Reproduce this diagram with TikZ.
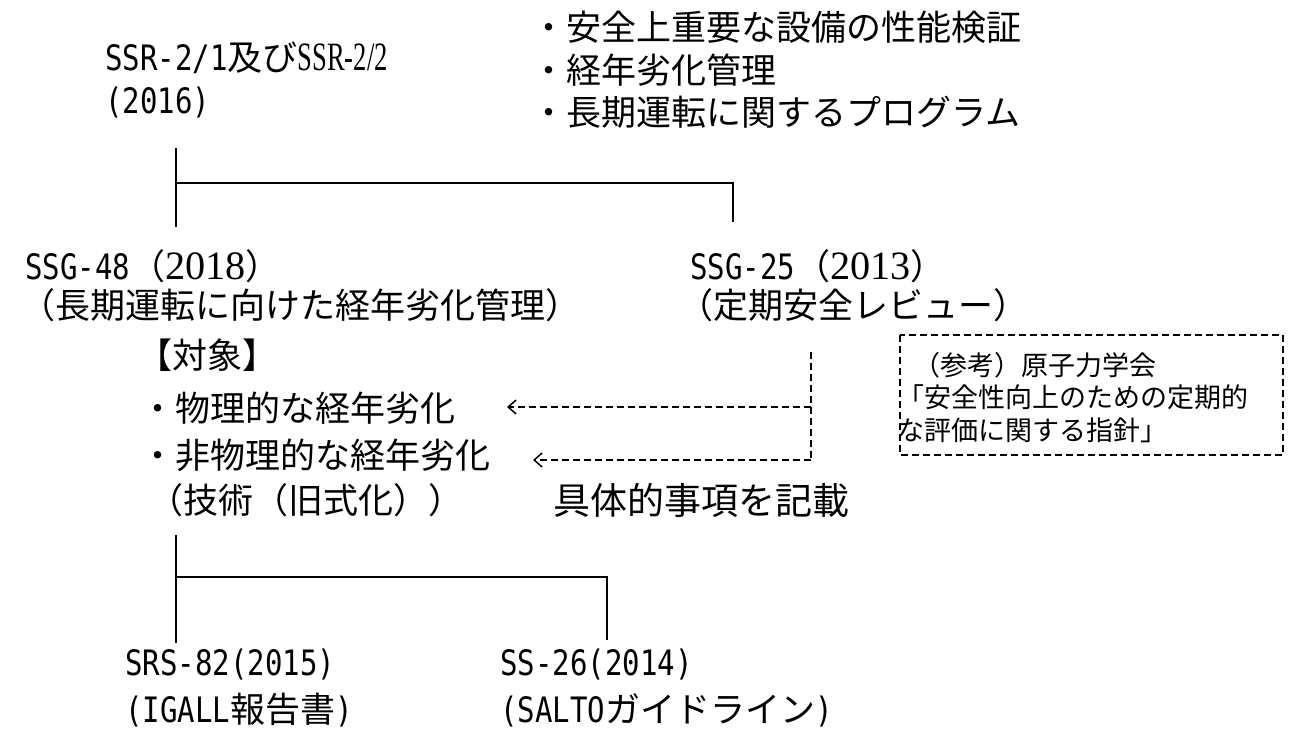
\documentclass[tikz,border=0pt]{standalone}
\usepackage{fontspec}
\setmainfont{Noto Sans CJK JP}
\newfontfamily\hw[FakeStretch=0.83]{DejaVu Sans Mono}
\newfontfamily\srf[Scale=1.15]{Liberation Serif}
\newfontfamily\srfs[Scale=1.15,FakeStretch=0.66]{Liberation Serif}
\usetikzlibrary{arrows.meta}
\begin{document}
\begin{tikzpicture}[x=1pt,y=-1pt,
  txt/.style={anchor=west,inner sep=0pt,font=\fontsize{35}{40}\selectfont},
  big/.style={anchor=west,inner sep=0pt,font=\fontsize{37}{42}\selectfont},
  small/.style={anchor=west,inner sep=0pt,font=\fontsize{27}{32}\selectfont},
  tree/.style={line width=1.7pt},
  dsh/.style={line width=1.7pt,dash pattern=on 7pt off 4pt},
  arr/.style={dsh,-{Straight Barb[length=8pt,width=14pt,line width=1.5pt]}}]
\useasboundingbox (0,0) rectangle (1290,746);
% top
\node[txt] (ssr) at (105,58) {{\hw SSR-2/1}及び{\srfs SSR-2/2}};
\node[txt] (y16) at (105,103) {{\hw (2016)}};
\node[txt] (l1) at (531,27) {・安全上重要な設備の性能検証};
\node[txt] (l2) at (531,70) {・経年劣化管理};
\node[txt] (l3) at (531,112) {・長期運転に関するプログラム};
% second level
\node[txt] (ssg48) at (25,266) {{\hw SSG-48}（{\srf 2018}）};
\node[txt] (ssg48b) at (20,305) {（長期運転に向けた経年劣化管理）};
\node[txt] (ssg25) at (690,266) {{\hw SSG-25}（{\srf 2013}）};
\node[txt] (ssg25b) at (678,305) {（定期安全レビュー）};
% targets
\node[txt] (tai) at (137,355) {【対象】};
\node[txt] (b1) at (140,408) {・物理的な経年劣化};
\node[txt] (b2) at (140,455) {・非物理的な経年劣化};
\node[txt] (b3) at (148,500) {（技術（旧式化））};
\node[big] (gutai) at (553,500) {具体的事項を記載};
% reference box
\draw[dsh] (900,335) rectangle (1283,455);
\node[small] (r1) at (913,365) {（参考）原子力学会};
\node[small] (r2) at (897,397) {「安全性向上のための定期的};
\node[small] (r3) at (897,430) {な評価に関する指針」};
% bottom
\node[txt] (srs) at (125,665) {{\hw SRS-82(2015)}};
\node[txt] (srsb) at (125,710) {{\hw (IGALL}報告書{\hw )}};
\node[txt] (ss26) at (500,665) {{\hw SS-26(2014)}};
\node[txt] (ss26b) at (500,710) {{\hw (SALTO}ガイドライン{\hw )}};
% tree lines
\coordinate (t1) at (176,148);
\coordinate (t2) at (176,227);
\coordinate (t3) at (176,183);
\coordinate (t4) at (733,183);
\coordinate (t5) at (733,222);
\draw[tree] (t1) -- (t2);
\draw[tree] (t3) -- (t4) -- (t5);
\coordinate (u1) at (176,535);
\coordinate (u2) at (176,643);
\coordinate (u3) at (176,577);
\coordinate (u4) at (607,577);
\coordinate (u5) at (607,640);
\draw[tree] (u1) -- (u2);
\draw[tree] (u3) -- (u4) -- (u5);
% dashed arrows
\coordinate (d1) at (811,352);
\coordinate (d2) at (811,407);
\coordinate (d3) at (811,460);
\coordinate (a1) at (507,407);
\coordinate (a2) at (533,460);
\draw[dsh] (d1) -- (d3);
\draw[arr] (d2) -- (a1);
\draw[arr] (d3) -- (a2);
\end{tikzpicture}
\end{document}
